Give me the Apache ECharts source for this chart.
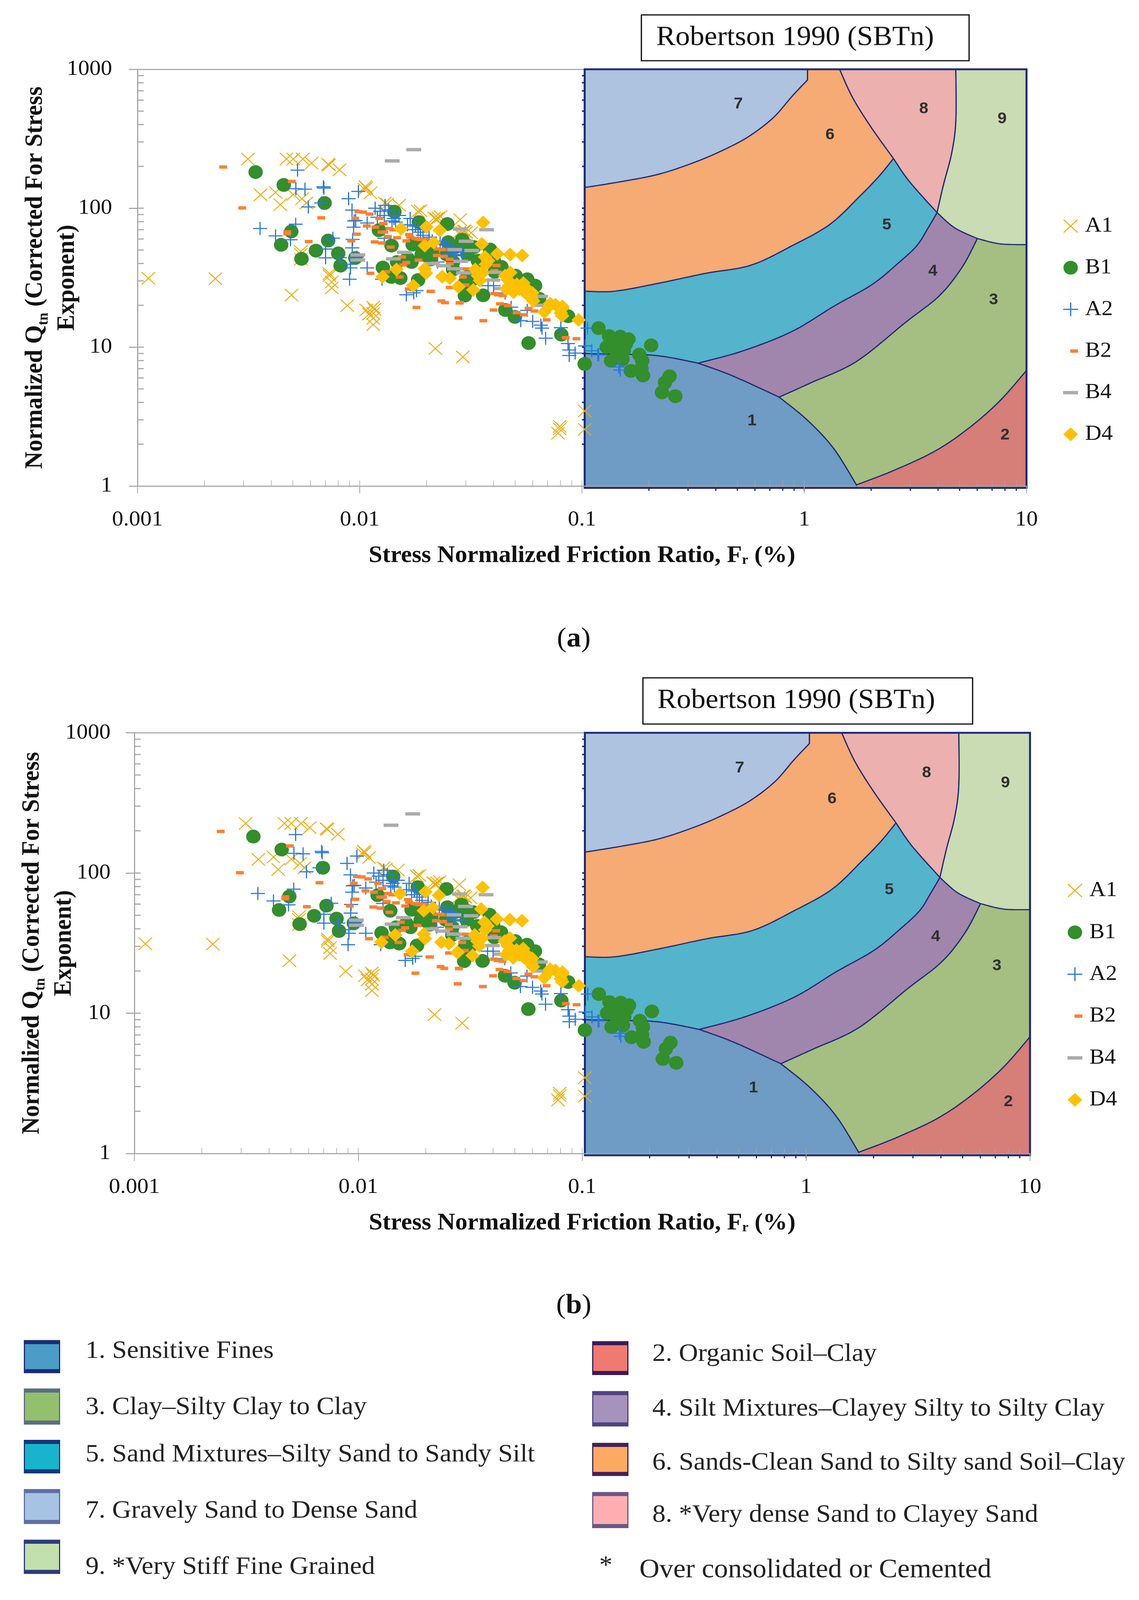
<!DOCTYPE html>
<html><head><meta charset="utf-8">
<style>html,body{margin:0;padding:0;background:#fff;overflow:hidden}#c{width:2916px;height:4296px;transform-origin:0 0}</style>
<script src="https://cdn.jsdelivr.net/npm/echarts@6/dist/echarts.min.js"></script>
</head><body><div id="c"></div>
<script>
// ---- measured points [Fr %, Qtn] ----
const A1 = [[.00112,31.3],[.00224,31.1],[.00314,226],[.00468,226],[.00502,226],[.00555,226],[.00607,211],[.00721,207],[.00728,205],[.00811,189],[.00358,125],[.00418,130],[.00502,125.6],[.0055,117],[.00575,109],[.00439,106],[.00543,48.8],[.00543,46.6],[.00543,42.9],[.00731,32.7],[.00731,33.8],[.00748,29.4],[.00748,26.7],[.00493,23.7],[.00879,19.9],[.0107,18.5],[.0115,19.4],[.01164,18.7],[.0115,17.5],[.0115,16.1],[.0115,14.5],[.011,17.3],[.0106,143],[.0107,140],[.01117,129],[.0105,137],[.01297,109],[.0133,107],[.01503,105],[.01828,95],[.01875,96],[.0216,85],[.0221,84],[.02254,85],[.0231,87],[.0283,82.7],[.0281,67],[.0293,68.5],[.0301,67],[.0289,67],[.0297,68.6],[.0279,65.9],[.03174,66.5],[.0219,9.78],[.0291,8.5],[.1028,3.47],[.1028,2.56],[.0794,2.69],[.078,2.4],[.0794,2.58]];
const B1 = [[.0034,182],[.00455,147],[.00695,109],[.00492,68],[.00443,54.5],[.00547,43.2],[.00635,49.5],[.00721,58.5],[.008,47.3],[.0082,38.6],[.00955,43.8],[.01432,94.4],[.0122,69.4],[.0139,53.8],[.01845,79.3],[.02477,76.9],[.025,57],[.0183,54.7],[.019,46.4],[.0204,44.6],[.0164,43.7],[.01473,41],[.0127,37.4],[.01387,32],[.01523,31.4],[.0183,30.4],[.0297,52.5],[.0289,54.7],[.027,52.5],[.0263,41],[.0297,23.5],[.0359,23.6],[.0386,50.4],[.0293,54.7],[.0327,52.5],[.0434,37.8],[.0309,30.8],[.0538,29.5],[.0598,26],[.0641,22.3],[.0452,18.5],[.0499,16.5],[.0575,10.7],[.0807,12.3],[.0865,16.7],[.1028,7.57],[.1186,13.7],[.1324,12],[.1486,11.9],[.1361,10.6],[.1578,10.6],[.1291,10],[.1449,9.06],[.1352,7.98],[.152,8.18],[.181,8.84],[.1866,7.98],[.166,6.74],[.185,7.01],[.1882,6.25],[.2047,10.3],[.2478,6.17],[.2364,5.57],[.2291,4.72],[.263,4.43],[.1403,11.4],[.1432,9.3],[.1542,9.5],[.1618,11.4],[.0173,54.7],[.0212,48.3],[.0209,42.8],[.0171,41],[.0246,46.4],[.0289,59.4],[.0305,46.4],[.0263,36.2],[.0305,32],[.0305,25.6],[.0309,53.6],[.034,41.9],[.04,42.8],[.0405,34.8],[.0322,30.8],[.0297,28.9],[.0502,32.7],[.0567,30.8],[.0615,27.7]];
const A2 = [[.00525,188],[.00516,138],[.00567,137],[.00686,142.6],[.0069,139.6],[.00671,109],[.00587,102],[.00891,117],[.00986,132],[.00923,97],[.00959,81.6],[.00938,73],[.0108,78.2],[.00929,59.6],[.00925,51.8],[.00356,71.4],[.00418,63.2],[.00515,76.7],[.00488,59.3],[.00757,60.8],[.00702,50.9],[.00702,43.9],[.00815,44],[.00908,39.5],[.00908,37.2],[.00971,44.4],[.0108,37.2],[.009,30.8],[.01173,100],[.013,104.7],[.01235,95],[.01349,97.3],[.0129,88.7],[.01426,84.4],[.01503,88.7],[.01686,84.4],[.0164,76],[.0178,74.4],[.0183,70],[.0205,61.9],[.023,57],[.0246,54.2],[.0263,52.5],[.0289,45.5],[.0266,46.4],[.0224,41],[.0129,60.7],[.0162,23.8],[.0175,24.6],[.018,25.5],[.0126,30.8],[.04,27.7],[.0378,27.7],[.0451,24.5],[.048,19.4],[.0567,18.4],[.053,15.5],[.06,15.3],[.0653,14.4],[.0661,13.7],[.0686,11.6],[.0803,13.8],[.0865,10.6],[.0876,9.53],[.0931,9.06],[.0876,8.7],[.1059,13.7],[.1034,10.2],[.1106,9.42],[.1178,8.83],[.1189,8.8],[.1465,7.2],[.1486,6.84],[.0173,70],[.01875,67.3],[.01926,63.8],[.0212,58.2],[.0221,55.9],[.0236,54.7],[.0252,51.4],[.027,48.3],[.0252,46.4],[.0289,48.3],[.01397,81],[.0145,79.3],[.012,86.1],[.00944,81]];
const B2 = [[.00243,198],[.00296,100.5],[.00495,156],[.00671,85.3],[.00472,67.6],[.00472,65.5],[.00589,57.5],[.00916,58.2],[.0097,65],[.00954,84.5],[.00986,94.4],[.01035,93.8],[.01107,90.8],[.01076,74.5],[.01225,84.4],[.01274,77.3],[.01175,73],[.01167,57.2],[.01256,56.2],[.01117,34],[.0129,67.3],[.0128,77.6],[.0134,62.5],[.01473,61.3],[.01377,52.5],[.0162,58.2],[.01665,64.6],[.0178,60.7],[.01875,59.5],[.0155,44.6],[.0162,40.6],[.0157,39],[.0184,42.3],[.01513,32],[.01313,34.8],[.0224,50.9],[.0236,50.4],[.0222,45.7],[.0239,45],[.0254,42.9],[.0254,39.8],[.0218,40.2],[.0301,36.6],[.0291,32],[.0254,26.9],[.0299,28],[.0166,26.2],[.0208,25.2],[.0413,38.7],[.0403,24.3],[.0419,23.8],[.044,23.5],[.0427,20.5],[.0464,19.9],[.0281,20.8],[.04,18.5],[.0403,35.5],[.0575,19],[.0611,18.2],[.0508,17.7],[.0547,17.1],[.0209,25.2],[.0233,21.5],[.0242,20.9],[.0282,20.9],[.018,19.3],[.0278,16.2],[.036,15.5],[.0693,15.7],[.0845,11.7],[.0944,11.5],[.01253,67.3],[.01416,70],[.01359,71.5],[.01686,61.9],[.0183,60],[.01954,60]];
const B4 = [[.014,219],[.0175,264],[.0098,46.1],[.0098,42.4],[.0159,48.1],[.01416,43.2],[.0267,50.3],[.0283,70.8],[.0301,57.8],[.0285,41.4],[.0212,39.9],[.0238,38.5],[.0267,36.7],[.0293,34.2],[.0372,70],[.0319,49.6],[.0268,36.6],[.0301,34.3],[.0403,34.6],[.0397,30.4],[.065,23.2],[.065,20],[.0434,26.4]];
const D4 = [[.01267,32.1],[.01463,36.2],[.01535,71.2],[.01995,73.3],[.0229,69.3],[.0215,56.6],[.0196,53.8],[.0196,36.7],[.01986,34.1],[.0174,27.7],[.0235,32.1],[.0254,31.4],[.0277,27.2],[.0359,78.9],[.0278,27.2],[.0324,25.8],[.0354,55.3],[.0416,46.9],[.0475,46.4],[.0538,45.7],[.0366,44.6],[.0369,39.4],[.0331,36.2],[.0356,34.1],[.0347,30.2],[.0476,34.4],[.0463,30.5],[.047,27.7],[.0492,24.8],[.0545,28.9],[.0548,25.1],[.0598,24.6],[.0603,21.5],[.0502,27.2],[.0719,20.6],[.0759,20.2],[.0817,19.6],[.0677,17.9],[.0719,20],[.0814,19],[.0803,17.6],[.0814,16.8],[.0966,15.7],[.0451,32.7],[.0509,28.3],[.0523,26.1],[.0567,26.1],[.0575,23.5],[.0591,22.6],[.0457,26.1],[.0378,41.9],[.034,32.7]];

// ---- SBTn zone boundaries [Fr %, Qtn] ----
const curveA = [[.1028,141],[.152,156],[.225,177],[.333,219],[.455,273],[.575,336],[.728,451],[.883,642],[1.034,838]];
const curveB = [[.1028,25.3],[.1406,25.3],[.225,29],[.36,34],[.575,38.9],[.883,53.8],[1.306,76.7],[1.786,123],[2.17,170],[2.52,228]];
const curveC1 = [[1.442,1000],[1.652,624],[2.01,378],[2.52,228]];
const curveC2 = [[2.52,228],[2.97,156],[3.96,93]];
const curveD = [[4.81,1000],[4.81,425],[4.61,250],[4.23,147],[3.96,93]];
const curveE1 = [[3.96,93],[4.75,72.3],[6.01,60.5]];
const curveE2 = [[6.01,60.5],[7.6,55.4],[10,54.7]];
const curveF = [[3.96,93],[3.61,72.3],[3.21,53.8],[2.64,40.1],[2.01,28.1],[1.358,19.7],[.883,13],[.532,9.42],[.333,7.67]];
const curveG = [[.1028,8.99],[.1406,8.9],[.2,8.79],[.253,8.38],[.333,7.67]];
const curveH1 = [[.333,7.67],[.473,6.24],[.771,4.37]];
const curveH2 = [[.771,4.37],[1.034,2.98],[1.358,1.86],[1.718,1.02]];
const curveI = [[.771,4.37],[1.074,5.55],[1.718,7.89],[2.86,15.1],[4.06,23.5],[5.14,37.8],[6.01,60.5]];
const curveJ = [[1.718,1.02],[2.54,1.3],[3.91,1.8],[5.56,2.65],[7.6,4.12],[10,6.8]];
const panelEdge = {left:.1028, right:10, top:1000, bottom:.97};

const zoneNames = ['1. Sensitive Fines','2. Organic Soil–Clay','3. Clay–Silty Clay to Clay','4. Silt Mixtures–Clayey Silty to Silty Clay','5. Sand Mixtures–Silty Sand to Sandy Silt','6. Sands-Clean Sand to Silty sand Soil–Clay','7. Gravely Sand to Dense Sand','8. *Very dense Sand to Clayey Sand','9. *Very Stiff Fine Grained'];
const zoneNumbers = [[.582,2.93,'1'],[8.0,2.33,'2'],[7.11,21.8,'3'],[3.79,35.1,'4'],[2.35,75.7,'5'],[1.306,336,'6'],[.505,561,'7'],[3.45,517,'8'],[7.76,438,'9']];
const xTicks = [.002,.003,.004,.005,.006,.007,.008,.009,.01,.02,.03,.04,.05,.06,.07,.08,.09,.1,.2,.3,.4,.5,.6,.7,.8,.9,1,2,3,4,5,6,7,8,9];
const yTicks = [2,3,4,5,6,7,8,9,10,20,30,40,50,60,70,80,90,100,200,300,400,500,600,700,800,900];
const seriesNames = ['A1','B1','A2','B2','B4','D4'];
const footnote = 'Over consolidated or Cemented';

// the window may be shorter than the page: fit the whole figure into it
const host = document.getElementById('c');
host.style.transform = 'scale(1,' + Math.min(1, window.innerHeight / 4296) + ')';

// ---- drawing ----
const rev = a => a.slice().reverse();
const E = panelEdge;
// every zone is a ring of boundary pieces; each piece is splined on its own so the corners stay sharp
const zoneRings = [
  [curveG, curveH1, curveH2, [[1.718,1.02],[1.718,E.bottom]], [[1.718,E.bottom],[E.left,E.bottom]]],
  [curveJ, [[10,6.8],[E.right,E.bottom]], [[E.right,E.bottom],[1.718,E.bottom]]],
  [curveI, curveE2, [[10,54.7],[10,6.8]], rev(curveJ), rev(curveH2)],
  [curveE1, rev(curveI), rev(curveH1), rev(curveF)],
  [curveB, curveC2, curveF, rev(curveG), [[E.left,8.99],[E.left,25.3]]],
  [curveA, [[1.034,838],[1.034,1000]], [[1.034,1000],[1.442,1000]], curveC1, rev(curveB), [[E.left,25.3],[E.left,141]]],
  [[[E.left,E.top],[1.034,1000]], [[1.034,1000],[1.034,838]], rev(curveA)],
  [curveC1, curveC2, rev(curveD), [[4.81,1000],[1.442,1000]]],
  [[[4.81,1000],[E.right,1000]], [[E.right,1000],[10,54.7]], rev(curveE2), rev(curveE1), rev(curveD)]
];
function spline(pts){
  if(pts.length<3) return pts;
  const out=[];
  for(let i=0;i<pts.length-1;i++){
    const p0=pts[Math.max(i-1,0)],p1=pts[i],p2=pts[i+1],p3=pts[Math.min(i+2,pts.length-1)];
    for(let s=0;s<12;s++){const t=s/12,t2=t*t,t3=t2*t;
      out.push([0,1].map(d=>.5*(2*p1[d]+(p2[d]-p0[d])*t+(2*p0[d]-5*p1[d]+4*p2[d]-p3[d])*t2+(3*p1[d]-p0[d]-3*p2[d]+p3[d])*t3)));}
  }
  out.push(pts[pts.length-1]);
  return out;
}
const zoneFill = ['#6e9cc4','#d67e78','#a5bf82','#a086ad','#54b4cb','#f6aa74','#aec3df','#ecb0ae','#c9dcb3'];
const NAVY = '#1c2772', GREY = '#a6a6a6';
const xPath = 'path://M1.8 0L18 15.7L34.2 0L36 1.8L19.8 17.5L36 33.2L34.2 35L18 19.3L1.8 35L0 33.2L16.2 17.5L0 1.8Z';
const plusPath = 'path://M16.5 0H19.5V16H36V19H19.5V35H16.5V19H0V16H16.5Z';
const seriesData = {A1,B1,A2,B2,B4,D4};
const look = {
  A1:{symbol:xPath,size:[36,35],color:'#eead0e',icon:xPath},
  B1:{symbol:'circle',size:37,color:'#338e2c',icon:'circle'},
  A2:{symbol:plusPath,size:[36,35],color:'#2b78d8',icon:plusPath},
  B2:{symbol:'rect',size:[20,9],color:'#ff7f2e',icon:'path://M0 0L0 0ZM38 37L38 37ZM18 14H38V23H18Z'},
  B4:{symbol:'rect',size:[38,9],color:'#ababab',icon:'path://M0 0L0 0ZM38 37L38 37ZM0 14H38V23H0Z'},
  D4:{symbol:'diamond',size:37,color:'#ffc000',icon:'diamond'}
};
const SERIF = '"Liberation Serif",serif';

function lineTicks(name,list,axisPair,fn,style,z){
  return {type:'custom',name,xAxisIndex:axisPair[0],yAxisIndex:axisPair[1],z,silent:true,clip:false,
    data:list.map(v=>[v]),encode:{x:0,y:0},
    renderItem:(p,api)=>{const s=fn(api,list[p.dataIndex]);
      return {type:'line',shape:{x1:s[0],y1:s[1],x2:s[2],y2:s[3]},style};}};
}
function chartParts(k,g,leg){
  const xi=k*2, yi=k;
  const grid={left:g.left,top:g.top,width:g.width,height:g.height};
  const xAxes=[{type:'log',logBase:10,gridIndex:k,position:'bottom',min:.001,max:10,z:3,
      axisLine:{show:true,onZero:false,lineStyle:{color:GREY,width:3}},
      axisTick:{show:true,length:20,lineStyle:{color:GREY,width:2}},minorTick:{show:false},splitLine:{show:false},
      axisLabel:{show:true,margin:g.xLabelGap,color:'#111',fontFamily:SERIF,fontSize:58,formatter:v=>String(+(+v).toPrecision(3))},
      name:'{a|Stress Normalized Friction Ratio, F}{s|r}{a| (%)}',nameLocation:'middle',nameGap:g.xNameGap,nameMoveOverlap:false,
      nameTextStyle:{rich:{a:{fontFamily:SERIF,fontWeight:'bold',fontSize:g.xNameSize,lineHeight:60,color:'#111'},
        s:{fontFamily:SERIF,fontWeight:'bold',fontSize:36,lineHeight:36,verticalAlign:'bottom',color:'#111'}}}},
    {type:'log',logBase:10,gridIndex:k,position:'top',min:.001,max:10,z:0,
      axisLine:{show:true,onZero:false,lineStyle:{color:GREY,width:3}},axisTick:{show:false},axisLabel:{show:false},splitLine:{show:false}}];
  const yAxis={type:'log',logBase:10,gridIndex:k,min:1,max:1000,z:3,position:'left',
      axisLine:{show:true,onZero:false,lineStyle:{color:GREY,width:3}},
      axisTick:{show:true,length:22,lineStyle:{color:GREY,width:3}},minorTick:{show:false},splitLine:{show:false},
      axisLabel:{show:true,margin:g.yLabelGap,color:'#111',fontFamily:SERIF,fontSize:58,formatter:v=>String(+(+v).toPrecision(4))},
      name:'{a|Normalized Q}{s|tn}{a| (Corrected For Stress}\n{a|Exponent)}',nameLocation:'middle',nameRotate:90,nameGap:g.yNameGap,nameMoveOverlap:false,
      nameTextStyle:{align:'center',rich:{a:{fontFamily:SERIF,fontWeight:'bold',fontSize:g.yNameSize,lineHeight:82,color:'#111'},
        s:{fontFamily:SERIF,fontWeight:'bold',fontSize:38,lineHeight:56,verticalAlign:'bottom',color:'#111'}}}};
  const pair=[xi,yi];
  const series=[];
  zoneRings.forEach((ring,i)=>{
    const anchors=ring.flat();
    series.push({type:'custom',name:'zone'+(i+1),xAxisIndex:xi,yAxisIndex:yi,z:1,silent:true,clip:false,
    data:anchors,encode:{x:0,y:1},
    renderItem:(p,api)=>p.dataIndex===0?{type:'polygon',shape:{points:ring.flatMap(seg=>spline(seg.map(q=>api.coord(q))))},
      style:{fill:zoneFill[i],stroke:NAVY,lineWidth:3,lineJoin:'round'}}:null});
  });
  const frame=[[E.left,E.top],[E.right,E.top],[E.right,E.bottom],[E.left,E.bottom]];
  series.push({type:'custom',name:'frame',xAxisIndex:xi,yAxisIndex:yi,z:2,silent:true,clip:false,data:frame,encode:{x:0,y:1},
    renderItem:(p,api)=>p.dataIndex===0?{type:'polygon',shape:{points:frame.map(q=>api.coord(q))},style:{fill:'none',stroke:NAVY,lineWidth:5}}:null});
  series.push({type:'custom',name:'zoneNumbers',xAxisIndex:xi,yAxisIndex:yi,z:2,silent:true,clip:false,data:zoneNumbers.map(n=>[n[0],n[1]]),encode:{x:0,y:1},
    renderItem:(p,api)=>{const c=api.coord(zoneNumbers[p.dataIndex]);
      return {type:'text',x:c[0],y:c[1],style:{text:zoneNumbers[p.dataIndex][2],fill:'#2f2f2f',align:'center',verticalAlign:'middle',font:'bold 42px "Liberation Sans",sans-serif'}};}});
  series.push(lineTicks('xIn',xTicks,pair,(a,v)=>{const c=a.coord([v,1]);return [c[0],c[1],c[0],c[1]-15];},{stroke:GREY,lineWidth:1.5},3));
  series.push(lineTicks('yIn',yTicks,pair,(a,v)=>{const c=a.coord([.001,v]);return [c[0],c[1],c[0]+16,c[1]];},{stroke:GREY,lineWidth:3},3));
  series.push(lineTicks('xNavy',xTicks.filter(v=>v>.1),pair,(a,v)=>{const c=a.coord([v,E.bottom]);return [c[0],c[1],c[0],c[1]+8];},{stroke:NAVY,lineWidth:3},2));
  series.push(lineTicks('yNavy',yTicks,pair,(a,v)=>{const c=a.coord([E.left,v]);return [c[0]-7,c[1],c[0],c[1]];},{stroke:NAVY,lineWidth:4},2));
  seriesNames.forEach((n,i)=>series.push({type:'scatter',name:n,xAxisIndex:xi,yAxisIndex:yi,z:5+i,silent:true,
    data:seriesData[n],symbol:look[n].symbol,symbolSize:look[n].size,itemStyle:{color:look[n].color,opacity:1,borderWidth:0}}));
  const legend={orient:'vertical',left:leg.left,top:leg.top,itemWidth:38,itemHeight:37,itemGap:leg.gap,selectedMode:false,padding:0,
    itemStyle:{borderWidth:0},
    textStyle:{fontFamily:SERIF,fontSize:58,color:'#111',padding:[0,0,0,13]},
    data:seriesNames.map(n=>({name:n,icon:look[n].icon}))};
  return {grid,xAxes,yAxis,series,legend};
}
const a=chartParts(0,{left:352,top:186,width:2276,height:1119,xLabelGap:62,yLabelGap:65,xNameGap:158,yNameGap:139,xNameSize:63,yNameSize:64},{left:2722,top:578,gap:53.8});
const b=chartParts(1,{left:344,top:1967.5,width:2293,height:1129.5,xLabelGap:62,yLabelGap:61,xNameGap:158,yNameGap:139,xNameSize:63,yNameSize:64},{left:2733,top:2362,gap:54.4});

// framed titles, captions, zone key
const gfx=[];
function box(x,y,w,h,tx,ty){
  gfx.push({type:'rect',shape:{x,y,width:w,height:h},style:{fill:'#fff',stroke:'#000',lineWidth:3}});
  gfx.push({type:'text',x:tx,y:ty,style:{text:'Robertson 1990 (SBTn)',fill:'#111',font:'74px '+SERIF,verticalAlign:'middle'}});
}
box(1642,40,839,123,1680,102);
box(1646,1820,844,124,1683,1882);
function caption(ch,y){
  gfx.push({type:'text',x:1469,y,style:{rich:{n:{font:'74px '+SERIF,fill:'#111'},c:{font:'bold 74px '+SERIF,fill:'#111'}},text:'{n|(}{c|'+ch+'}{n|)}',align:'center',verticalAlign:'middle'}});
}
caption('a',1717); caption('b',3507);
const keyPos=[[61,3598,3687,219,3628],[1516,3601,3692,1670,3636],[61,3728,3825,219,3779],[1516,3735,3830,1670,3783],[61,3866,3956,219,3906],[1516,3874,3963,1670,3928],[61,3998,4092,219,4057],[1516,4006,4103,1670,4068],[61,4134,4226,219,4208]];
const keyFill=['#4a9dc7','#ee7a72','#93c06d','#a592bd','#18b4cd','#fcaa62','#a6c3e4','#feaeb0','#c2e0ae'];
const keyEdge=['#1b2d75','#3d1a57','#5d6e80','#4f4484','#14367a','#452058','#5f6fa4','#6c5785','#2d3c78'];
zoneNames.forEach((n,i)=>{
  const p=keyPos[i];
  gfx.push({type:'rect',shape:{x:p[0],y:p[1],width:93,height:p[2]-p[1]},style:{fill:keyEdge[i]}});
  gfx.push({type:'rect',shape:{x:p[0]+3,y:p[1]+11,width:87,height:p[2]-p[1]-22},style:{fill:keyFill[i]}});
  gfx.push({type:'text',x:p[3],y:p[4],style:{text:n,fill:'#222',font:'68px '+SERIF,verticalAlign:'middle'}});
});
gfx.push({type:'text',x:1534,y:4205,style:{text:'*',fill:'#222',font:'68px '+SERIF,verticalAlign:'middle'}});
gfx.push({type:'text',x:1637,y:4216,style:{text:footnote,fill:'#222',font:'71px '+SERIF,verticalAlign:'middle'}});

const chart=echarts.init(host,null,{renderer:'canvas',devicePixelRatio:1});
chart.setOption({
  animation:false,backgroundColor:'#fff',
  grid:[a.grid,b.grid],
  xAxis:[...a.xAxes,...b.xAxes],
  yAxis:[a.yAxis,b.yAxis],
  legend:[a.legend,b.legend],
  series:[...a.series,...b.series],
  graphic:{elements:gfx}
});
</script></body></html>
